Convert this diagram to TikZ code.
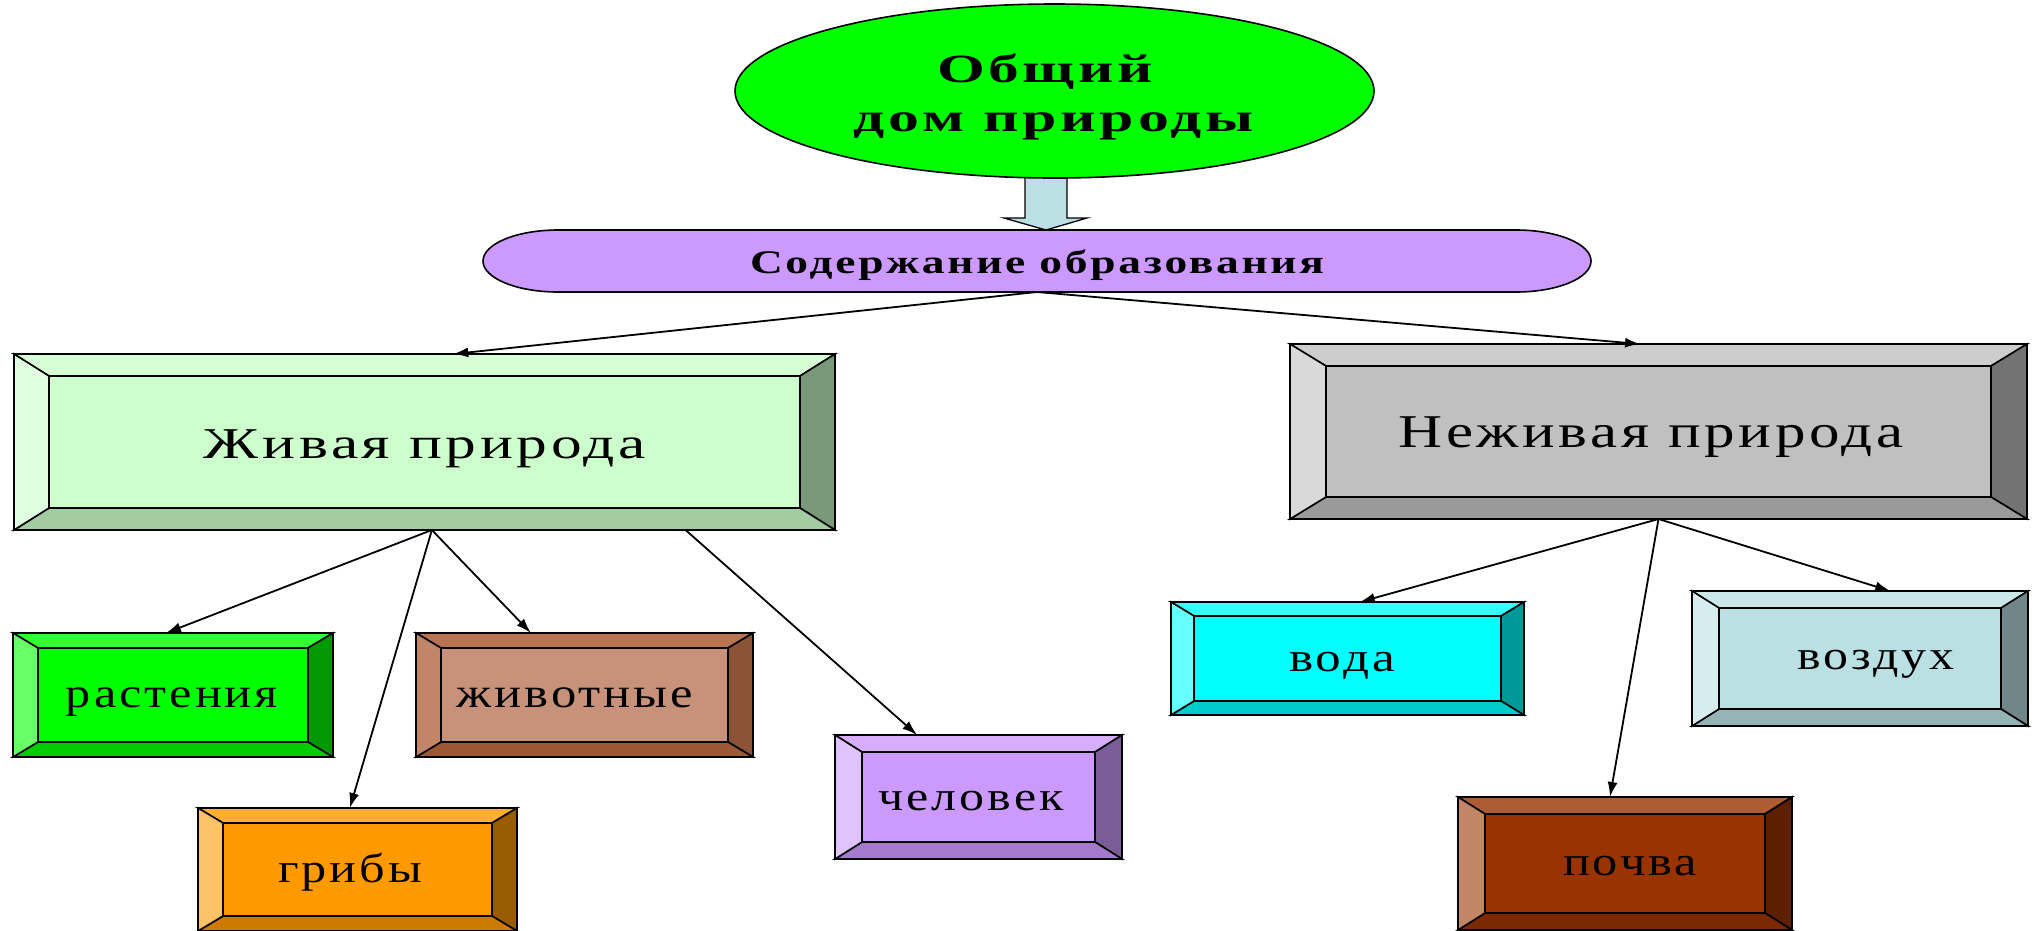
\documentclass[tikz,border=0pt]{standalone}
\usepackage{fontspec}
\setmainfont{Liberation Serif}
\newfontfamily\spfont[LetterSpace=6]{Liberation Serif}
\usetikzlibrary{shapes.geometric,arrows.meta,calc}
\newcommand{\fittxt}[3]{\resizebox{#1}{\height}{\spfont\fontsize{#2pt}{#2pt}\selectfont #3}}
\newcommand{\fittxtb}[3]{\resizebox{#1}{\height}{\spfont\bfseries\fontsize{#2pt}{#2pt}\selectfont #3}}
% colours: F face, T top, L left, R right, B bottom
\definecolor{jivF}{HTML}{CCFFCC}\definecolor{jivT}{HTML}{D6FFD6}\definecolor{jivL}{HTML}{E0FFE0}\definecolor{jivR}{HTML}{7A997A}\definecolor{jivB}{HTML}{A3CCA3}
\definecolor{nejF}{HTML}{C0C0C0}\definecolor{nejT}{HTML}{CDCDCD}\definecolor{nejL}{HTML}{D9D9D9}\definecolor{nejR}{HTML}{737373}\definecolor{nejB}{HTML}{9A9A9A}
\definecolor{rastF}{HTML}{00FF00}\definecolor{rastT}{HTML}{33FF33}\definecolor{rastL}{HTML}{66FF66}\definecolor{rastR}{HTML}{009900}\definecolor{rastB}{HTML}{00CC00}
\definecolor{zhivF}{HTML}{C8917A}\definecolor{zhivT}{HTML}{B87350}\definecolor{zhivL}{HTML}{C38568}\definecolor{zhivR}{HTML}{8B5236}\definecolor{zhivB}{HTML}{9C5833}
\definecolor{gribF}{HTML}{FF9900}\definecolor{gribT}{HTML}{FFAD33}\definecolor{gribL}{HTML}{FFC266}\definecolor{gribR}{HTML}{995C00}\definecolor{gribB}{HTML}{CC7A00}
\definecolor{chelF}{HTML}{CC99FF}\definecolor{chelT}{HTML}{D6ADFF}\definecolor{chelL}{HTML}{E0C2FF}\definecolor{chelR}{HTML}{7A5C99}\definecolor{chelB}{HTML}{A37ACC}
\definecolor{vodaF}{HTML}{00FFFF}\definecolor{vodaT}{HTML}{33FFFF}\definecolor{vodaL}{HTML}{66FFFF}\definecolor{vodaR}{HTML}{009999}\definecolor{vodaB}{HTML}{00CCCC}
\definecolor{vozdF}{HTML}{BBE0E3}\definecolor{vozdT}{HTML}{C9E7E9}\definecolor{vozdL}{HTML}{D6ECEE}\definecolor{vozdR}{HTML}{708688}\definecolor{vozdB}{HTML}{96B3B6}
\definecolor{pochF}{HTML}{993300}\definecolor{pochT}{HTML}{AD5C33}\definecolor{pochL}{HTML}{C28566}\definecolor{pochR}{HTML}{5C1F00}\definecolor{pochB}{HTML}{7A2900}
\definecolor{ellF}{HTML}{00FF00}
\definecolor{sodF}{HTML}{CC99FF}
\definecolor{arrF}{HTML}{BBE0E3}
\newcommand{\bvbox}[7]{%
  \node[boxshape, minimum width=#3, minimum height=#4] (#1) at #2 {};
  \coordinate (#1-a) at ([xshift=#5,yshift=-#6]#1.north west);
  \coordinate (#1-b) at ([xshift=-#5,yshift=-#6]#1.north east);
  \coordinate (#1-c) at ([xshift=-#5,yshift=#6]#1.south east);
  \coordinate (#1-d) at ([xshift=#5,yshift=#6]#1.south west);
  \draw[bevline, fill=#7T] (#1.north west) -- (#1.north east) -- (#1-b) -- (#1-a) -- cycle;
  \draw[bevline, fill=#7R] (#1.north east) -- (#1.south east) -- (#1-c) -- (#1-b) -- cycle;
  \draw[bevline, fill=#7B] (#1.south east) -- (#1.south west) -- (#1-d) -- (#1-c) -- cycle;
  \draw[bevline, fill=#7L] (#1.south west) -- (#1.north west) -- (#1-a) -- (#1-d) -- cycle;
  \draw[bevline, fill=#7F] (#1-a) rectangle (#1-c);
}
\begin{document}
\begin{tikzpicture}[x=1pt,y=-1pt,
  boxshape/.style={rectangle, draw=none, inner sep=0pt, outer sep=0pt},
  bevline/.style={draw=black, line width=1.6pt, line join=miter},
  txt/.style={inner sep=0pt, outer sep=0pt, anchor=base, text=black},
  conn/.style={draw=black, line width=1.8pt, -{Latex[length=15pt,width=10pt]}}]
\useasboundingbox (0,0) rectangle (2037,930);
\fill[white] (0,0) rectangle (2037,930);
% block arrow
\draw[line width=1.3pt, fill=arrF] (1025,176) -- (1067,176) -- (1067,218) -- (1087,218) -- (1046,230) -- (1004,218) -- (1025,218) -- cycle;
% ellipse
\node[ellipse, draw=black, line width=1.6pt, fill=ellF, minimum width=639pt, minimum height=174pt, inner sep=0pt] (ell) at (1054.5,91) {};
% stadium
\node[boxshape, minimum width=1108pt, minimum height=62pt] (sod) at (1037,261) {};
\draw[line width=1.6pt, fill=sodF] (558,230) -- (1516,230) arc[x radius=75pt, y radius=31pt, start angle=90, end angle=-90] -- (558,292) arc[x radius=75pt, y radius=31pt, start angle=270, end angle=90] -- cycle;
% bevel boxes
\bvbox{jiv}{(424.5,442)}{821pt}{176pt}{35pt}{22pt}{jiv}
\bvbox{nej}{(1658.5,431.5)}{737pt}{175pt}{36pt}{22pt}{nej}
\bvbox{rast}{(173,695)}{320pt}{124pt}{25pt}{15pt}{rast}
\bvbox{zhiv}{(584.5,695)}{337pt}{124pt}{25pt}{15pt}{zhiv}
\bvbox{grib}{(357.5,869.5)}{319pt}{123pt}{25pt}{15pt}{grib}
\bvbox{chel}{(978.5,797)}{287pt}{124pt}{27pt}{17pt}{chel}
\bvbox{voda}{(1347.5,658.5)}{353pt}{113pt}{23pt}{14pt}{voda}
\bvbox{vozd}{(1860,658.5)}{336pt}{135pt}{27pt}{17pt}{vozd}
\bvbox{poch}{(1625,863.5)}{334pt}{133pt}{27pt}{17pt}{poch}
% texts
\node[txt] (t1) at (1045,82) {\fittxtb{216pt}{40}{Общий}};
\node[txt] (t2) at (1054,131) {\fittxtb{400pt}{40}{дом природы}};
\node[txt] (t3) at (1037,273) {\fittxtb{574pt}{33}{Содержание образования}};
\node[txt] (t4) at (425,458) {\fittxt{442pt}{44}{Живая природа}};
\node[txt] (t5) at (1651,447) {\fittxt{505pt}{47}{Неживая природа}};
\node[txt] (t6) at (172,707) {\fittxt{212pt}{42}{растения}};
\node[txt] (t7) at (575,707) {\fittxt{237pt}{42}{животные}};
\node[txt] (t8) at (350,882) {\fittxt{144pt}{41}{грибы}};
\node[txt] (t9) at (971,810) {\fittxt{185pt}{41}{человек}};
\node[txt] (t10) at (1342,671) {\fittxt{106pt}{41}{вода}};
\node[txt] (t11) at (1876,669) {\fittxt{157pt}{41}{воздух}};
\node[txt] (t12) at (1630,875) {\fittxt{134pt}{41}{почва}};
% connectors
\draw[conn] (sod.south) -- ($(jiv.north west)!0.535!(jiv.north east)$);
\draw[conn] (sod.south) -- ($(nej.north west)!0.475!(nej.north east)$);
\coordinate (jb1) at ($(jiv.south west)!0.509!(jiv.south east)$);
\coordinate (jb2) at ($(jiv.south west)!0.818!(jiv.south east)$);
\draw[conn] (jb1) -- ($(rast.north west)!0.478!(rast.north east)$);
\draw[conn] (jb1) -- ($(grib.north west)!0.476!(grib.north east)$);
\draw[conn] (jb1) -- ($(zhiv.north west)!0.341!(zhiv.north east)$);
\draw[conn] (jb2) -- ($(chel.north west)!0.286!(chel.north east)$);
\draw[conn] (nej.south) -- ($(voda.north west)!0.535!(voda.north east)$);
\draw[conn] (nej.south) -- ($(poch.north west)!0.455!(poch.north east)$);
\draw[conn] (nej.south) -- ($(vozd.north west)!0.59!(vozd.north east)$);
\end{tikzpicture}
\end{document}
